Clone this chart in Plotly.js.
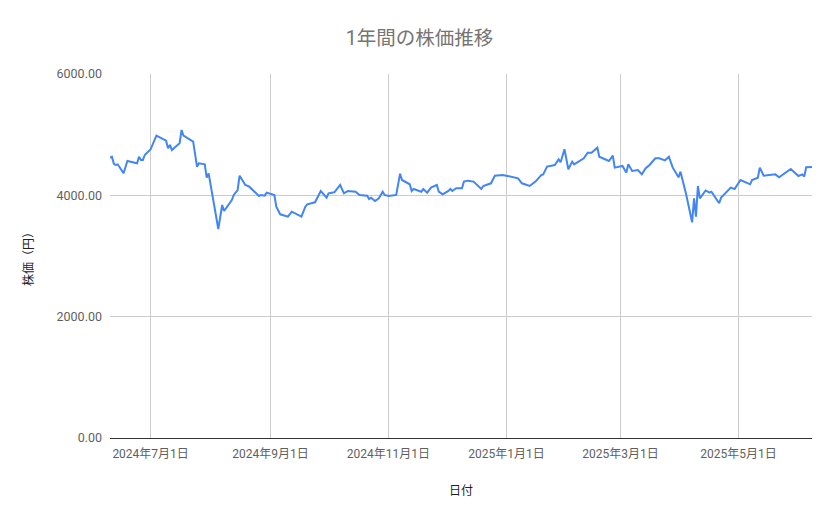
<!DOCTYPE html>
<html>
<head>
<meta charset="utf-8">
<script src="https://cdn.plot.ly/plotly-3.0.1.min.js"></script>
<style>
  html, body { margin: 0; padding: 0; background: #fff; }
  #chart { width: 839px; height: 519px; }
</style>
</head>
<body>
<div id="chart"></div>
<script>
var dates = [
  '2024-06-10', '2024-06-11', '2024-06-12', '2024-06-13', '2024-06-14', '2024-06-17', '2024-06-19',
  '2024-06-24', '2024-06-25', '2024-06-26', '2024-06-27', '2024-06-28', '2024-07-01', '2024-07-04',
  '2024-07-09', '2024-07-10', '2024-07-11', '2024-07-12', '2024-07-16', '2024-07-17', '2024-07-18',
  '2024-07-23', '2024-07-25', '2024-07-26', '2024-07-29', '2024-07-30', '2024-07-31', '2024-08-02',
  '2024-08-05', '2024-08-07', '2024-08-08', '2024-08-12', '2024-08-13', '2024-08-15', '2024-08-16',
  '2024-08-19', '2024-08-21', '2024-08-26', '2024-08-27', '2024-08-29', '2024-08-30', '2024-09-03',
  '2024-09-04', '2024-09-06', '2024-09-10', '2024-09-12', '2024-09-17', '2024-09-19', '2024-09-20',
  '2024-09-24', '2024-09-27', '2024-09-30', '2024-10-01', '2024-10-04', '2024-10-07', '2024-10-09',
  '2024-10-11', '2024-10-15', '2024-10-17', '2024-10-21', '2024-10-22', '2024-10-23', '2024-10-25',
  '2024-10-27', '2024-10-29', '2024-10-30', '2024-11-01', '2024-11-05', '2024-11-07', '2024-11-08',
  '2024-11-12', '2024-11-13', '2024-11-14', '2024-11-18', '2024-11-19', '2024-11-21', '2024-11-23',
  '2024-11-26', '2024-11-27', '2024-11-29', '2024-12-02', '2024-12-03', '2024-12-04', '2024-12-06',
  '2024-12-09', '2024-12-10', '2024-12-12', '2024-12-15', '2024-12-19', '2024-12-20', '2024-12-24',
  '2024-12-26', '2024-12-30', '2025-01-01', '2025-01-07', '2025-01-09', '2025-01-13', '2025-01-16',
  '2025-01-19', '2025-01-20', '2025-01-22', '2025-01-26', '2025-01-28', '2025-01-29', '2025-01-31',
  '2025-02-02', '2025-02-04', '2025-02-05', '2025-02-10', '2025-02-12', '2025-02-14', '2025-02-17',
  '2025-02-18', '2025-02-23', '2025-02-25', '2025-02-26', '2025-03-02', '2025-03-04', '2025-03-05',
  '2025-03-07', '2025-03-10', '2025-03-12', '2025-03-14', '2025-03-16', '2025-03-19', '2025-03-21',
  '2025-03-24', '2025-03-26', '2025-03-28', '2025-03-31', '2025-04-01', '2025-04-04', '2025-04-07',
  '2025-04-08', '2025-04-09', '2025-04-10', '2025-04-11', '2025-04-14', '2025-04-16', '2025-04-17',
  '2025-04-21', '2025-04-22', '2025-04-27', '2025-04-29', '2025-05-02', '2025-05-07', '2025-05-08',
  '2025-05-11', '2025-05-12', '2025-05-14', '2025-05-20', '2025-05-22', '2025-05-28', '2025-06-01',
  '2025-06-03', '2025-06-04', '2025-06-05', '2025-06-08'
];

var prices = [
  4620, 4637, 4520, 4500, 4511, 4363, 4566,
  4528, 4637, 4583, 4583, 4665, 4759, 4983,
  4901, 4775, 4830, 4747, 4858, 5077, 4983,
  4884, 4473, 4528, 4511, 4291, 4363, 4006,
  3445, 3841, 3742, 3923, 4006, 4088, 4324,
  4171, 4143, 3990, 4006, 3995, 4044, 4006,
  3813, 3687, 3648, 3731, 3648, 3813, 3852,
  3885, 4072, 3962, 4033, 4050, 4171, 4033,
  4072, 4060, 4006, 3995, 3940, 3962, 3907,
  3951, 4060, 4006, 3990, 4006, 4357, 4253,
  4182, 4072, 4105, 4060, 4105, 4044, 4127,
  4171, 4060, 4017, 4072, 4105, 4072, 4116,
  4116, 4226, 4242, 4226, 4105, 4154, 4198,
  4324, 4335, 4324, 4281, 4198, 4154, 4226,
  4335, 4346, 4473, 4500, 4594, 4544, 4759,
  4429, 4555, 4511, 4610, 4703, 4703, 4786,
  4637, 4566, 4654, 4456, 4484, 4374, 4511,
  4401, 4418, 4346, 4446, 4500, 4610, 4610,
  4577, 4637, 4456, 4297, 4390, 4006, 3555,
  3951, 3650, 4154, 3951, 4080, 4044, 4060,
  3869, 3962, 4127, 4105, 4253, 4182, 4253,
  4291, 4456, 4324, 4346, 4297, 4434, 4319,
  4346, 4308, 4462, 4467
];

var tickDates = ['2024-07-01', '2024-09-01', '2024-11-01', '2025-01-01', '2025-03-01', '2025-05-01'];
var tickLabels = ['2024年7月1日', '2024年9月1日', '2024年11月1日', '2025年1月1日', '2025年3月1日', '2025年5月1日'];
var yTicks = [0, 2000, 4000, 6000];

var baseFont = 'Roboto, "Noto Sans CJK JP", sans-serif';

var trace = {
  x: dates,
  y: prices,
  type: 'scatter',
  mode: 'lines',
  line: { color: '#4285f4', width: 2 },
  hoverinfo: 'skip'
};

var layout = {
  width: 839,
  height: 519,
  margin: { l: 110, r: 27, t: 74, b: 81 },
  paper_bgcolor: '#ffffff',
  plot_bgcolor: '#ffffff',
  showlegend: false,
  font: { family: baseFont, color: '#444444', size: 12 },
  title: {
    text: '1年間の株価推移',
    font: { family: baseFont, size: 19.5, color: '#757575' },
    x: 0.5,
    xanchor: 'center',
    xref: 'container',
    y: 1 - 38 / 519,
    yanchor: 'middle',
    yref: 'container'
  },
  xaxis: {
    type: 'date',
    range: [dates[0], dates[dates.length - 1]],
    tickvals: tickDates,
    ticktext: tickLabels,
    ticks: '',
    ticklabelstandoff: 7,
    showgrid: true,
    gridcolor: '#cccccc',
    gridwidth: 1,
    zeroline: false,
    showline: false,
    tickfont: { family: baseFont, size: 12, color: '#5f5f5f' },
    title: {
      text: '日付',
      font: { family: baseFont, size: 12, color: '#222222' },
      standoff: 26
    },
    automargin: false
  },
  yaxis: {
    range: [0, 6000],
    tickvals: yTicks,
    tickformat: '.2f',
    ticks: '',
    ticklabelstandoff: 7,
    showgrid: true,
    gridcolor: '#cccccc',
    gridwidth: 1,
    zeroline: true,
    zerolinecolor: '#333333',
    zerolinewidth: 1,
    showline: false,
    tickfont: { family: baseFont, size: 12.5, color: '#5f5f5f' },
    title: {
      text: '株価（円）',
      font: { family: baseFont, size: 12, color: '#222222' },
      standoff: 20
    },
    automargin: false
  }
};

Plotly.newPlot('chart', [trace], layout, { staticPlot: true });
</script>
</body>
</html>
